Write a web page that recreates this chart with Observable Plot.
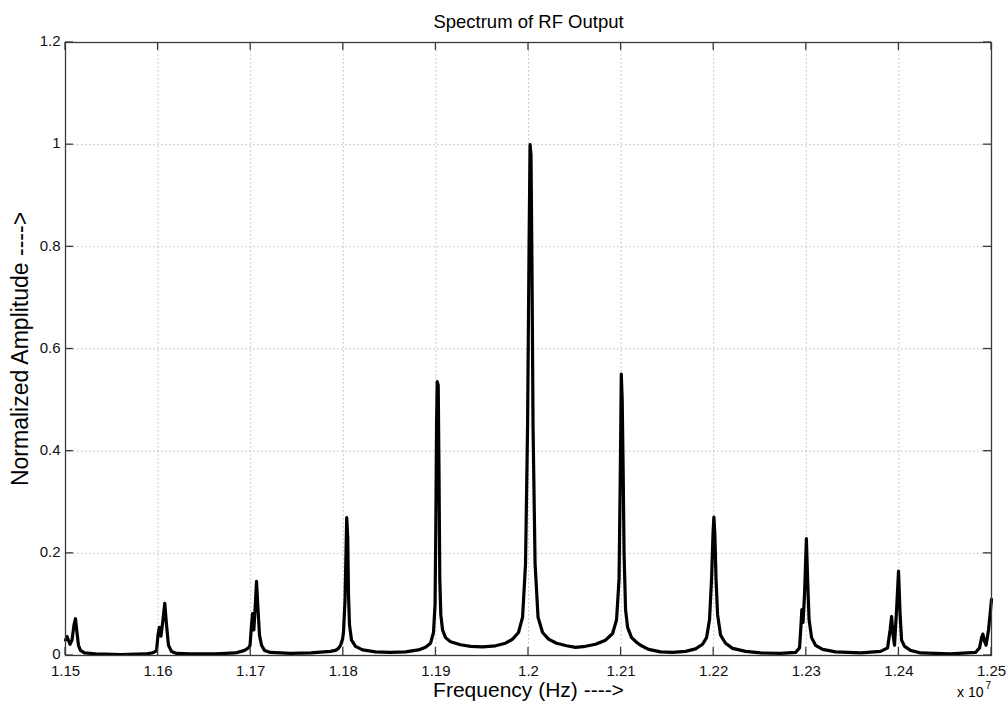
<!DOCTYPE html>
<html>
<head>
<meta charset="utf-8">
<script src="https://cdn.jsdelivr.net/npm/d3@7"></script>
<script src="https://cdn.jsdelivr.net/npm/@observablehq/plot@0.6"></script>
<style>
  html, body { margin: 0; padding: 0; background: #fff; }
  #chart svg { display: block; }
</style>
</head>
<body>
<div id="chart"></div>
<script>
// Frequency in units of 10^7 Hz
const freq = [
  1.15000, 1.15016, 1.15049, 1.15070, 1.15092, 1.15108, 1.15124, 1.15140, 1.15162, 1.15205,
  1.15324, 1.15594, 1.15864, 1.15940, 1.15972,
  1.15983, 1.15999, 1.16013, 1.16031, 1.16053, 1.16072, 1.16091, 1.16112, 1.16145, 1.16199,
  1.16350, 1.16620, 1.16836, 1.16933, 1.16976,
  1.16993, 1.17009, 1.17020, 1.17034, 1.17047, 1.17063, 1.17079, 1.17095, 1.17117, 1.17149,
  1.17214, 1.17430, 1.17646, 1.17862, 1.17916, 1.17948, 1.17970, 1.17992,
  1.18002, 1.18019, 1.18029, 1.18037, 1.18048, 1.18056, 1.18067, 1.18089, 1.18132, 1.18208,
  1.18348, 1.18510, 1.18672, 1.18812, 1.18888, 1.18942, 1.18974,
  1.18991, 1.18999, 1.19007, 1.19014, 1.19025, 1.19034, 1.19042, 1.19053, 1.19072, 1.19104,
  1.19158, 1.19266, 1.19374, 1.19504, 1.19644, 1.19752, 1.19828, 1.19892, 1.19936, 1.19968,
  1.19990, 1.20006, 1.20017, 1.20027, 1.20038, 1.20049, 1.20071, 1.20103, 1.20152, 1.20216,
  1.20303, 1.20411, 1.20508, 1.20616, 1.20724, 1.20832, 1.20908, 1.20951, 1.20978, 1.20994,
  1.21002, 1.21012, 1.21023, 1.21032, 1.21048, 1.21070, 1.21113, 1.21167, 1.21210, 1.21296,
  1.21426, 1.21556, 1.21696, 1.21804, 1.21880, 1.21923, 1.21955, 1.21977, 1.21993, 1.22002,
  1.22012, 1.22025, 1.22042, 1.22074, 1.22128, 1.22204, 1.22344, 1.22506, 1.22722, 1.22884,
  1.22927, 1.22943, 1.22952, 1.22965, 1.22981, 1.23001, 1.23014, 1.23030, 1.23057, 1.23100,
  1.23176, 1.23316, 1.23586, 1.23802, 1.23878, 1.23905, 1.23921, 1.23937, 1.23953, 1.23975,
  1.23996, 1.24013, 1.24029, 1.24061, 1.24126, 1.24234, 1.24558, 1.24828, 1.24871, 1.24893,
  1.24907, 1.24925, 1.24941, 1.24968, 1.24990, 1.25000
];

// Normalized amplitude
const amp = [
  0.030, 0.037, 0.022, 0.030, 0.060, 0.072, 0.045, 0.020, 0.010, 0.005,
  0.003, 0.002, 0.003, 0.005, 0.008,
  0.010, 0.040, 0.055, 0.038, 0.070, 0.102, 0.060, 0.020, 0.008, 0.004,
  0.003, 0.003, 0.005, 0.010, 0.015,
  0.020, 0.060, 0.082, 0.050, 0.090, 0.145, 0.090, 0.040, 0.020, 0.010,
  0.006, 0.004, 0.005, 0.008, 0.010, 0.014, 0.020, 0.032,
  0.045, 0.110, 0.200, 0.270, 0.230, 0.120, 0.060, 0.030, 0.018, 0.011,
  0.007, 0.006, 0.007, 0.011, 0.016, 0.024, 0.045,
  0.100, 0.250, 0.450, 0.536, 0.529, 0.350, 0.150, 0.080, 0.050, 0.035,
  0.027, 0.021, 0.018, 0.017, 0.019, 0.024, 0.032, 0.045, 0.075, 0.180,
  0.450, 0.800, 1.000, 0.980, 0.750, 0.450, 0.180, 0.075, 0.045, 0.032,
  0.024, 0.019, 0.016, 0.018, 0.022, 0.030, 0.043, 0.070, 0.150, 0.400,
  0.551, 0.500, 0.350, 0.200, 0.090, 0.055, 0.035, 0.026, 0.020, 0.012,
  0.007, 0.006, 0.008, 0.013, 0.022, 0.035, 0.070, 0.150, 0.240, 0.271,
  0.240, 0.150, 0.080, 0.040, 0.024, 0.014, 0.008, 0.005, 0.004, 0.006,
  0.015, 0.060, 0.090, 0.065, 0.120, 0.229, 0.150, 0.070, 0.035, 0.020,
  0.012, 0.007, 0.005, 0.008, 0.015, 0.050, 0.076, 0.040, 0.020, 0.090,
  0.165, 0.080, 0.030, 0.018, 0.010, 0.005, 0.003, 0.006, 0.015, 0.035,
  0.042, 0.028, 0.020, 0.050, 0.090, 0.110
];

const xTicks = [1.15, 1.16, 1.17, 1.18, 1.19, 1.20, 1.21, 1.22, 1.23, 1.24, 1.25];
const xTickLabels = ["1.15", "1.16", "1.17", "1.18", "1.19", "1.2", "1.21", "1.22", "1.23", "1.24", "1.25"];
const yTicks = [0, 0.2, 0.4, 0.6, 0.8, 1.0, 1.2];
const yTickLabels = ["0", "0.2", "0.4", "0.6", "0.8", "1", "1.2"];

const titleText = "Spectrum of RF Output";
const xLabelText = "Frequency (Hz) ---->";
const yLabelText = "Normalized Amplitude ---->";
const exponentBase = "x 10";
const exponentPower = "7";

const data = freq.map((f, i) => ({f, a: amp[i]}));

const frameColor = "#3a3a3a";
const gridStyle = {stroke: "#bdbdbd", strokeOpacity: 1, strokeWidth: 1, strokeDasharray: "1.5,2.5"};

const chart = Plot.plot({
  width: 1008,
  height: 703,
  marginLeft: 65,
  marginRight: 17,
  marginTop: 42,
  marginBottom: 48,
  style: {fontFamily: "'Liberation Sans', Arial, sans-serif", background: "#fff", color: "#111"},
  x: {domain: [1.15, 1.25]},
  y: {domain: [0, 1.2]},
  marks: [
    Plot.gridX(xTicks, gridStyle),
    Plot.gridY(yTicks, gridStyle),
    Plot.line(data, {x: "f", y: "a", stroke: "#000", strokeWidth: 3.2, strokeLinejoin: "round", strokeLinecap: "round"}),
    Plot.frame({stroke: frameColor, strokeWidth: 1.3}),
    // tick labels
    Plot.axisX(xTicks, {anchor: "bottom", tickSize: 0, tickPadding: 10, label: null, fontSize: 15, fill: "#111",
      tickFormat: d => xTickLabels[xTicks.indexOf(d)]}),
    Plot.axisY(yTicks, {anchor: "left", tickSize: 0, tickPadding: 5, label: null, fontSize: 15, fill: "#111", dy: -1,
      tickFormat: d => yTickLabels[yTicks.indexOf(d)]}),
    // titles
    Plot.text([titleText], {frameAnchor: "top", dy: -20, lineAnchor: "middle", fontSize: 18.5, fill: "#000"}),
    Plot.text([xLabelText], {frameAnchor: "bottom", dy: 35, lineAnchor: "middle", textAnchor: "middle", fontSize: 21, fill: "#000"}),
    Plot.text([yLabelText], {frameAnchor: "left", dx: -45, rotate: -90, lineAnchor: "middle", textAnchor: "middle", fontSize: 23, fill: "#000"}),
    Plot.text([exponentBase], {frameAnchor: "bottom-right", dx: -8, dy: 37, lineAnchor: "middle", textAnchor: "end", fontSize: 14, fill: "#000"}),
    Plot.text([exponentPower], {frameAnchor: "bottom-right", dx: -6, dy: 30, lineAnchor: "middle", textAnchor: "start", fontSize: 10, fill: "#000"})
  ]
});

// inward tick marks on all four sides, positioned with the plot's own scales
const sx = chart.scale("x"), sy = chart.scale("y");
const [x0, x1] = sx.range, [y0, y1] = sy.range; // y0 bottom, y1 top
const tickLen = 8;
const g = d3.select(chart).append("g").attr("stroke", frameColor).attr("stroke-width", 1.3);
for (const v of xTicks) {
  const px = sx.apply(v);
  g.append("line").attr("x1", px).attr("x2", px).attr("y1", y0).attr("y2", y0 - tickLen);
  g.append("line").attr("x1", px).attr("x2", px).attr("y1", y1).attr("y2", y1 + tickLen);
}
for (const v of yTicks) {
  const py = sy.apply(v);
  g.append("line").attr("y1", py).attr("y2", py).attr("x1", x0).attr("x2", x0 + tickLen);
  g.append("line").attr("y1", py).attr("y2", py).attr("x1", x1).attr("x2", x1 - tickLen);
}

document.getElementById("chart").appendChild(chart);
</script>
</body>
</html>
